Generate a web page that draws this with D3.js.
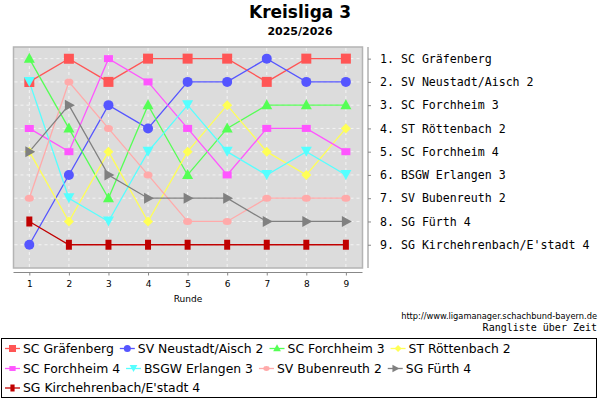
<!DOCTYPE html>
<html><head><meta charset="utf-8">
<script src="https://cdn.jsdelivr.net/npm/d3@7"></script>
<style>
body{margin:0;background:#fff;}
svg{display:block;}
</style></head>
<body>
<svg id="c" width="600" height="400"></svg>
<script>
const rounds = [1,2,3,4,5,6,7,8,9];
const teams = ["SC Gräfenberg","SV Neustadt/Aisch 2","SC Forchheim 3","ST Röttenbach 2","SC Forchheim 4","BSGW Erlangen 3","SV Bubenreuth 2","SG Fürth 4","SG Kirchehrenbach/E'stadt 4"];
const rankGraefenberg = [2,1,2,1,1,1,2,1,1];
const rankNeustadt    = [9,6,3,4,2,2,1,2,2];
const rankForchheim3  = [1,4,7,3,6,4,3,3,3];
const rankRoettenbach = [5,8,5,8,5,3,5,6,4];
const rankForchheim4  = [4,5,1,2,4,6,4,4,5];
const rankErlangen    = [2,7,8,5,3,5,6,5,6];
const rankBubenreuth  = [7,2,4,6,8,8,7,7,7];
const rankFuerth      = [5,3,6,7,7,7,8,8,8];
const rankKirch       = [8,9,9,9,9,9,9,9,9];
const finalRanking = ["1. SC Gräfenberg","2. SV Neustadt/Aisch 2","3. SC Forchheim 3","4. ST Röttenbach 2","5. SC Forchheim 4","6. BSGW Erlangen 3","7. SV Bubenreuth 2","8. SG Fürth 4","9. SG Kirchehrenbach/E'stadt 4"];
const colors = ["#ff5555","#5555ff","#55ff55","#ffff55","#ff55ff","#55ffff","#ffaaaa","#808080","#c00000"];
const shapes = ["square","circle","triUp","diamond","rectWide","triDown","ellipse","triRight","rectTall"];
const allRanks = [rankGraefenberg,rankNeustadt,rankForchheim3,rankRoettenbach,rankForchheim4,rankErlangen,rankBubenreuth,rankFuerth,rankKirch];

const series = teams.map((t,i)=>({name:t,color:colors[i],shape:shapes[i],values:rounds.map((r,j)=>({r,rank:allRanks[i][j]}))}));

const svg = d3.select("#c");
const L=13.5, R=362.5, T=47, B=268;
const x = d3.scaleLinear().domain([0.6,9.42]).range([L,R]);
const y = d3.scaleLinear().domain([0.5,10]).range([T,B]);

// title
svg.append("text").attr("x",300).attr("y",18).attr("text-anchor","middle")
  .attr("font-family","DejaVu Sans").attr("font-weight","bold").attr("font-size",17).text("Kreisliga 3");
svg.append("text").attr("x",300).attr("y",35).attr("text-anchor","middle")
  .attr("font-family","DejaVu Sans").attr("font-weight","bold").attr("font-size",11).text("2025/2026");

// plot bg
svg.append("rect").attr("x",L).attr("y",T).attr("width",R-L).attr("height",B-T)
  .attr("fill","#dcdcdc").attr("stroke","#b4b4b4").attr("stroke-width",1.5);
const grid = svg.append("g").attr("stroke","#f4f4f4").attr("stroke-dasharray","3,3").attr("stroke-width",1);
rounds.forEach(r=>grid.append("line").attr("x1",x(r)).attr("x2",x(r)).attr("y1",T+1).attr("y2",B-1));
d3.range(1,10).forEach(k=>grid.append("line").attr("x1",L+1).attr("x2",R-1).attr("y1",y(k)).attr("y2",y(k)));

// x axis
const xa = svg.append("g").attr("transform",`translate(0,${B+4.5})`)
  .call(d3.axisBottom(x).tickValues(rounds).tickSize(3).tickFormat(d3.format("d")));
xa.select(".domain").attr("stroke","#888").attr("d",`M${L},0H${R}`);
xa.selectAll(".tick line").attr("stroke","#888");
xa.selectAll("text").attr("font-family","DejaVu Sans").attr("font-size",9).attr("fill","#000").attr("dy","0.9em");
svg.append("text").attr("x",188).attr("y",302).attr("text-anchor","middle")
  .attr("font-family","DejaVu Sans").attr("font-size",9).text("Runde");

// right axis
const ya = svg.append("g").attr("transform",`translate(368,0)`)
  .call(d3.axisRight(y).tickValues(d3.range(1,10)).tickSize(3).tickFormat((d,i)=>finalRanking[i]));
ya.select(".domain").attr("stroke","#888").attr("d",`M0,${T}V${B}`);
ya.selectAll(".tick line").attr("stroke","#888");
ya.selectAll("text").attr("font-family","DejaVu Sans Mono").attr("font-size",11.6).attr("fill","#000").attr("x",12);

// markers
function marker(g, shape, color, cx, cy, s){
  s = s||1;
  const sel = g.append("path").attr("fill",color).attr("stroke","none");
  let d;
  switch(shape){
    case "square": d=`M${cx-5*s},${cy-5*s}h${10*s}v${10*s}h${-10*s}Z`; break;
    case "circle": g.append("circle").attr("cx",cx).attr("cy",cy).attr("r",5*s).attr("fill",color); sel.remove(); return;
    case "triUp": d=`M${cx},${cy-6*s}L${cx+5.5*s},${cy+4*s}L${cx-5.5*s},${cy+4*s}Z`; break;
    case "triDown": d=`M${cx},${cy+5*s}L${cx+5.5*s},${cy-5*s}L${cx-5.5*s},${cy-5*s}Z`; break;
    case "triRight": d=`M${cx+6*s},${cy}L${cx-4*s},${cy-5.5*s}L${cx-4*s},${cy+5.5*s}Z`; break;
    case "diamond": d=`M${cx},${cy-5*s}L${cx+5*s},${cy}L${cx},${cy+5*s}L${cx-5*s},${cy}Z`; break;
    case "rectWide": d=`M${cx-4.5*s},${cy-3.5*s}h${9*s}v${7*s}h${-9*s}Z`; break;
    case "ellipse": g.append("ellipse").attr("cx",cx).attr("cy",cy).attr("rx",4.5*s).attr("ry",3.5*s).attr("fill",color); sel.remove(); return;
    case "rectTall": d=`M${cx-3*s},${cy-5*s}h${6*s}v${10*s}h${-6*s}Z`; break;
  }
  sel.attr("d",d);
}

const line = d3.line().x(d=>x(d.r)).y(d=>y(d.rank));
const pg = svg.append("g");
series.forEach(s=>{
  pg.append("path").attr("d",line(s.values)).attr("fill","none").attr("stroke",s.color).attr("stroke-width",1.3);
});
series.forEach(s=>{
  const g = pg.append("g");
  s.values.forEach(v=>marker(g,s.shape,s.color,x(v.r),y(v.rank),1));
});

// footer texts
svg.append("text").attr("x",597).attr("y",319).attr("text-anchor","end")
  .attr("font-family","Liberation Sans Narrow, DejaVu Sans Condensed, DejaVu Sans").attr("font-size",9.2).text("http://www.ligamanager.schachbund-bayern.de");
svg.append("text").attr("x",597).attr("y",331).attr("text-anchor","end")
  .attr("font-family","DejaVu Sans Mono").attr("font-size",10).text("Rangliste über Zeit");

// legend
svg.append("rect").attr("x",1.5).attr("y",338.5).attr("width",595).attr("height",59).attr("fill","#fff").attr("stroke","#000").attr("stroke-width",1);
const rows = [[0,1,2,3],[4,5,6,7],[8]];
const rowY = [348.5,368.5,388];
rows.forEach((row,ri)=>{
  let cx = 5;
  row.forEach(i=>{
    const g = svg.append("g");
    g.append("line").attr("x1",cx).attr("x2",cx+15).attr("y1",rowY[ri]).attr("y2",rowY[ri]).attr("stroke",colors[i]).attr("stroke-width",1.3);
    marker(g,shapes[i],colors[i],cx+7.5,rowY[ri],0.7);
    const t = g.append("text").attr("x",cx+18).attr("y",rowY[ri]+4.4).attr("font-family","DejaVu Sans").attr("font-size",12.4).text(teams[i]);
    const w = t.node().getComputedTextLength();
    cx = cx + 18 + w + 6;
  });
});
</script>
</body></html>
